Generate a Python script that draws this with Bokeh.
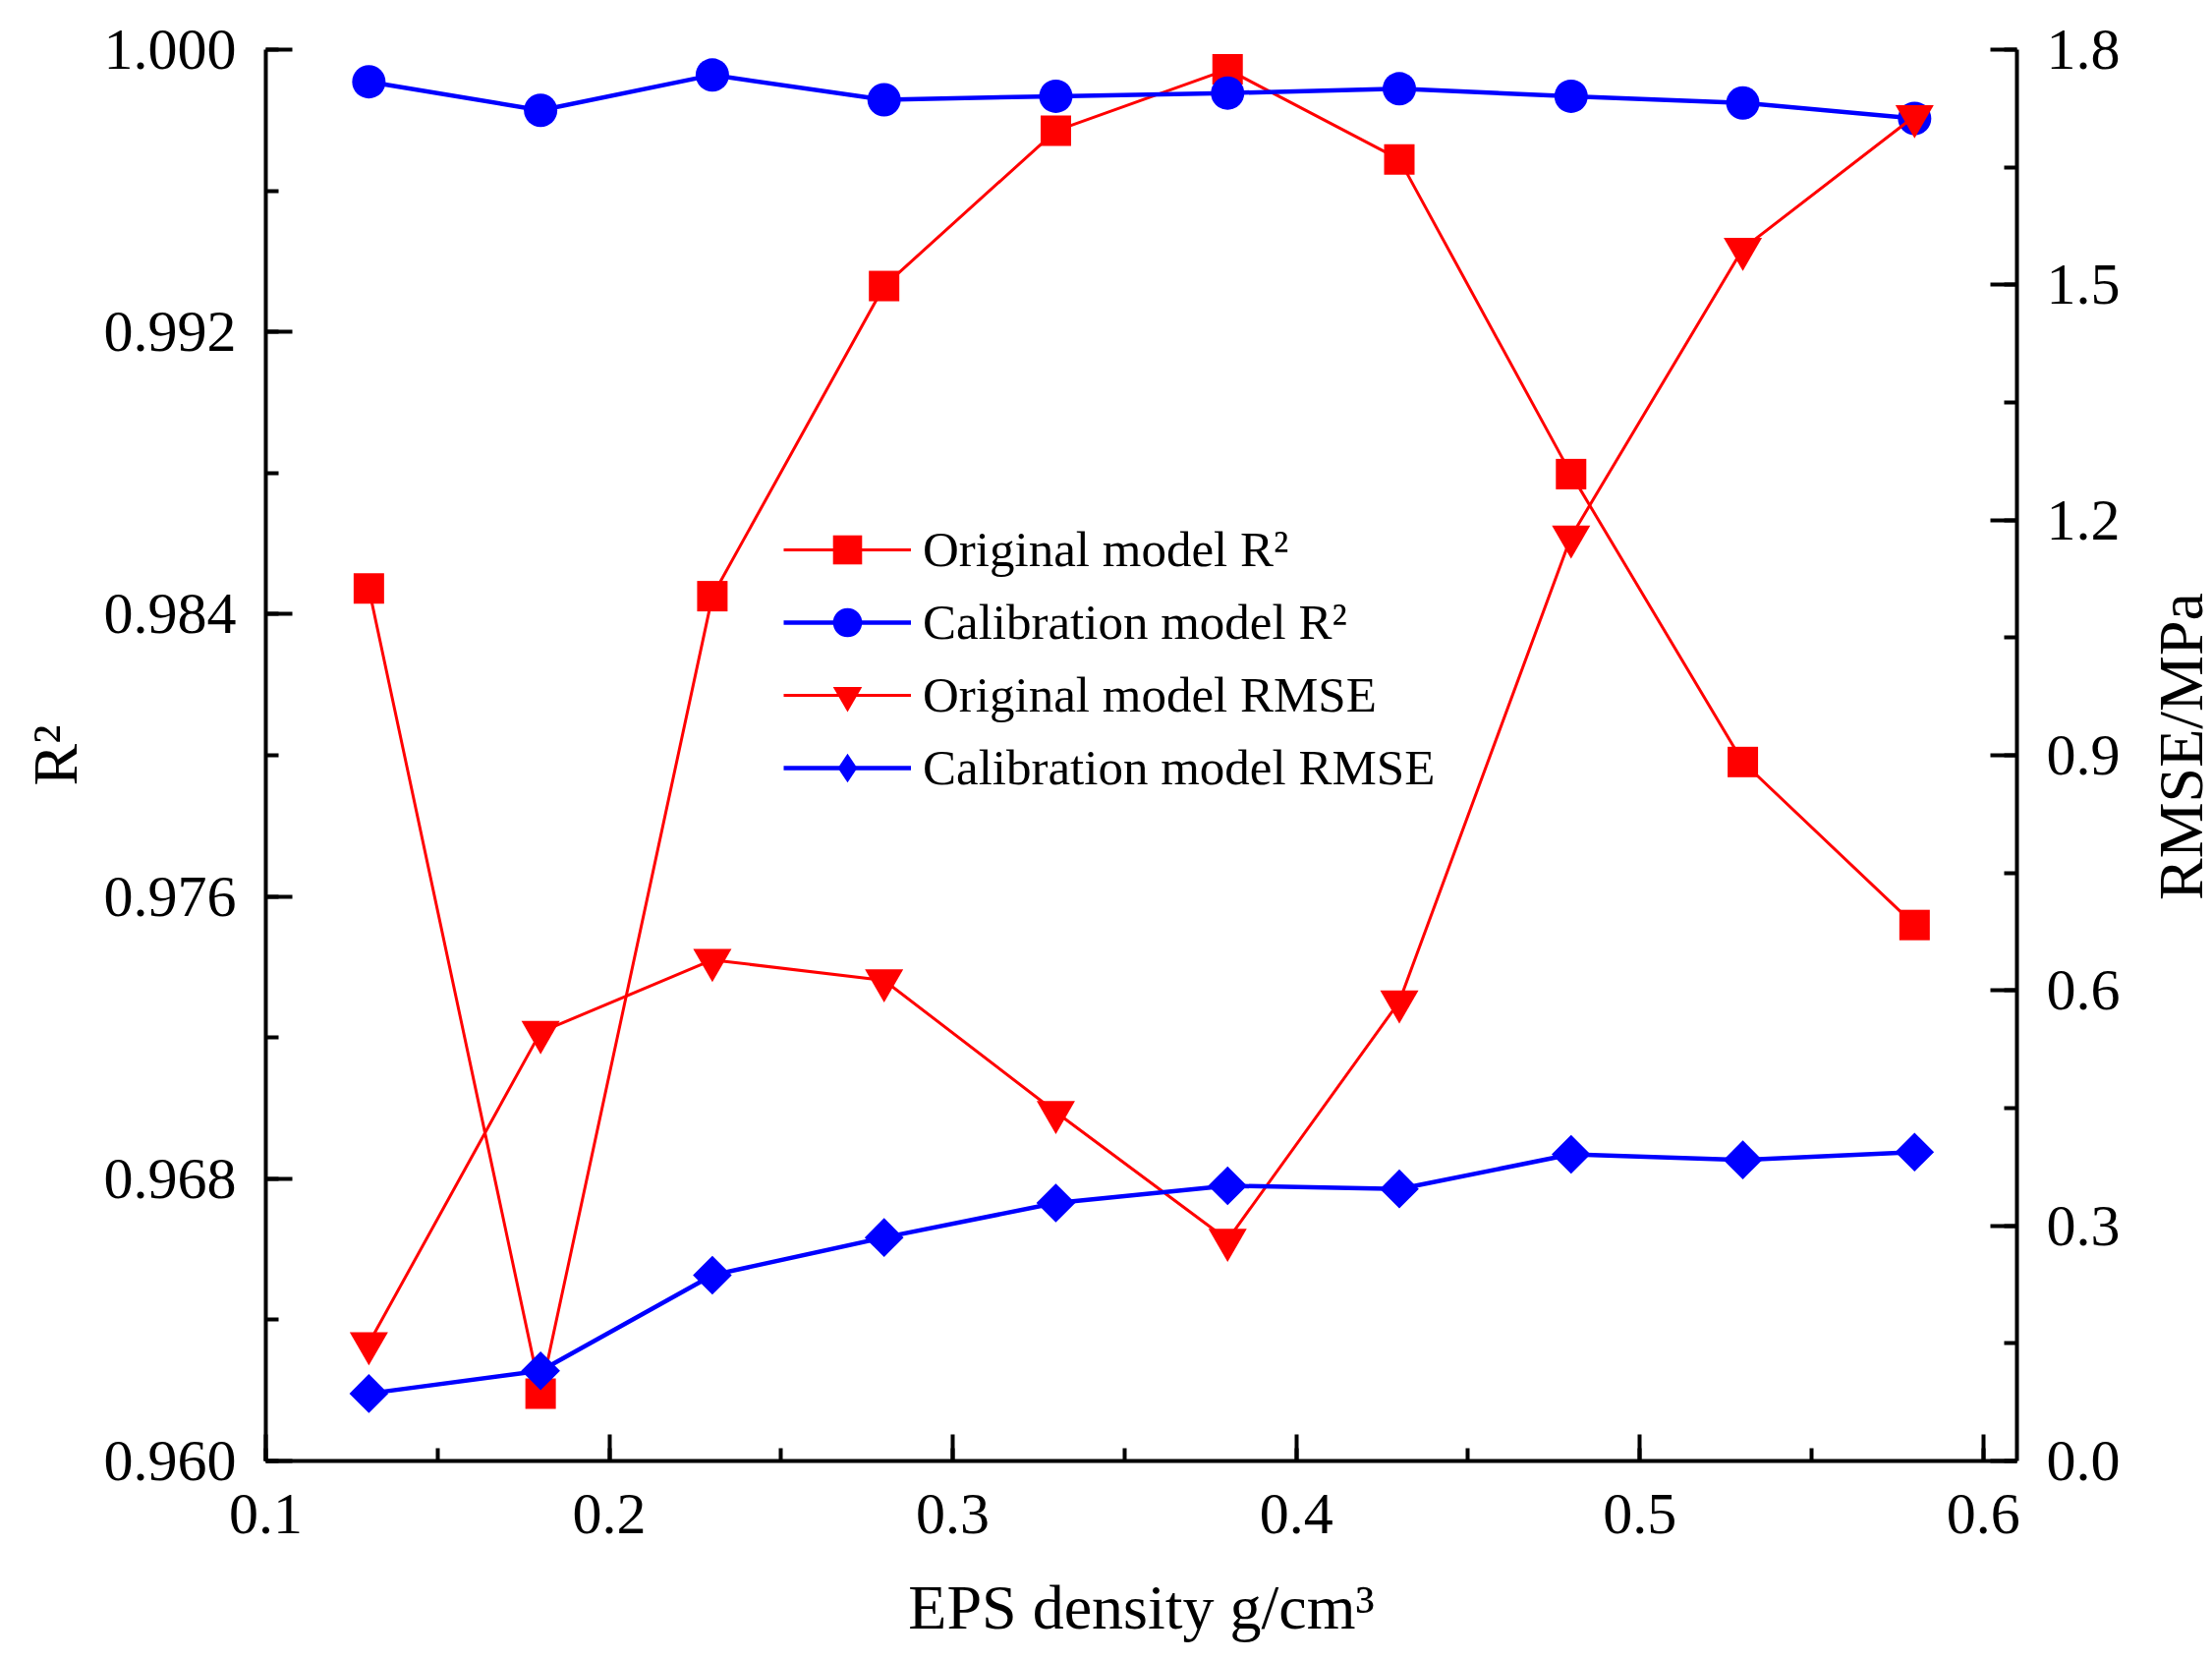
import math
from bokeh.plotting import figure
from bokeh.layouts import row
from bokeh.models import Range1d, LinearAxis, Legend, LegendItem, Label, SingleIntervalTicker, PrintfTickFormatter
from bokeh.embed import file_html
from bokeh.resources import INLINE

# ---- data ----
eps_density = [0.13, 0.18, 0.23, 0.28, 0.33, 0.38, 0.43, 0.48, 0.53, 0.58]
original_r2 = [0.98473, 0.96191, 0.98451, 0.99330, 0.99770, 0.99944, 0.99689, 0.98797, 0.97981, 0.97519]
calibration_r2 = [0.99909, 0.99828, 0.99928, 0.99858, 0.99868, 0.99877, 0.99889, 0.99868, 0.99849, 0.99805]
original_rmse = [0.150, 0.547, 0.639, 0.613, 0.445, 0.282, 0.586, 1.179, 1.546, 1.715]
calibration_rmse = [0.086, 0.115, 0.237, 0.285, 0.329, 0.351, 0.347, 0.391, 0.384, 0.394]

series_labels = ["Original model R²", "Calibration model R²",
                 "Original model RMSE", "Calibration model RMSE"]
x_label = "EPS density g/cm³"
y_label = "R²"
y2_label = "RMSE/MPa"

RED = "#FF0000"
BLUE = "#0000FF"
FONT = "Liberation Serif"

BORDER_L, BORDER_R, BORDER_T, BORDER_B = 270, 115, 50, 195
FRAME_W, FRAME_H = 1782, 1436
TOTAL_H = BORDER_T + FRAME_H + BORDER_B

p = figure(frame_width=FRAME_W, frame_height=FRAME_H,
           min_border_left=BORDER_L, min_border_right=BORDER_R,
           min_border_top=BORDER_T, min_border_bottom=BORDER_B,
           x_range=Range1d(0.1, 0.6098), y_range=Range1d(0.960, 1.000),
           output_backend="svg", toolbar_location=None,
           x_axis_location=None, y_axis_location=None)
p.extra_y_ranges = {"rmse": Range1d(0.0, 1.8)}
p.outline_line_color = None
p.xgrid.visible = False
p.ygrid.visible = False
p.background_fill_color = "white"
p.border_fill_color = "white"


def style_axis(ax, interval, fmt_digits):
    ax.ticker = SingleIntervalTicker(interval=interval, num_minor_ticks=2)
    ax.axis_line_width = 4
    ax.axis_line_color = "black"
    ax.major_tick_line_width = 4
    ax.minor_tick_line_width = 4
    ax.major_tick_in = 27
    ax.major_tick_out = 0
    ax.minor_tick_in = 13
    ax.minor_tick_out = 0
    ax.major_label_text_font = FONT
    ax.major_label_text_font_size = "60px"
    ax.major_label_text_color = "black"
    ax.axis_label_text_font = FONT
    ax.axis_label_text_font_size = "64px"
    ax.axis_label_text_font_style = "normal"
    ax.axis_label_text_color = "black"
    ax.formatter = PrintfTickFormatter(format="%." + str(fmt_digits) + "f")


xaxis = LinearAxis(axis_label=x_label)
style_axis(xaxis, 0.1, 1)
xaxis.major_label_standoff = 34
xaxis.axis_label_standoff = 37
p.add_layout(xaxis, "below")

yaxis = LinearAxis(axis_label=y_label)
style_axis(yaxis, 0.008, 3)
yaxis.major_label_standoff = 30
yaxis.axis_label_standoff = 11
p.add_layout(yaxis, "left")

y2axis = LinearAxis(y_range_name="rmse")
style_axis(y2axis, 0.3, 1)
y2axis.major_label_standoff = 30
p.add_layout(y2axis, "right")

# ---- series ----
l1 = p.line(eps_density, original_r2, line_color=RED, line_width=3)
s1 = p.scatter(eps_density, original_r2, marker="square", size=31,
               fill_color=RED, line_color=RED, line_width=0)
l2 = p.line(eps_density, calibration_r2, line_color=BLUE, line_width=4.5)
s2 = p.scatter(eps_density, calibration_r2, marker="circle", size=34,
               fill_color=BLUE, line_color=BLUE, line_width=0)
l3 = p.line(eps_density, original_rmse, line_color=RED, line_width=3, y_range_name="rmse")
s3 = p.scatter(eps_density, original_rmse, marker="inverted_triangle", size=39,
               fill_color=RED, line_color=RED, line_width=0, y_range_name="rmse")
l4 = p.line(eps_density, calibration_rmse, line_color=BLUE, line_width=4.5, y_range_name="rmse")
# diamond-shaped marker (used for the legend key), covered by the rotated squares below
s4k = p.scatter(eps_density, calibration_rmse, marker="diamond", size=38,
                fill_color=BLUE, line_color=BLUE, line_width=0, y_range_name="rmse")
s4 = p.scatter(eps_density, calibration_rmse, marker="square", angle=math.pi / 4, size=28,
               fill_color=BLUE, line_color=BLUE, line_width=0, y_range_name="rmse")

legend = Legend(items=[
    LegendItem(label=series_labels[0], renderers=[l1, s1]),
    LegendItem(label=series_labels[1], renderers=[l2, s2]),
    LegendItem(label=series_labels[2], renderers=[l3, s3]),
    LegendItem(label=series_labels[3], renderers=[l4, s4k]),
], location=(527, 668))
legend.border_line_color = None
legend.background_fill_alpha = 0
legend.padding = 0
legend.margin = 0
legend.spacing = 0
legend.glyph_width = 130
legend.glyph_height = 74
legend.label_height = 72
legend.label_standoff = 12
legend.label_text_font = FONT
legend.label_text_font_size = "51px"
legend.label_text_color = "black"
legend.label_text_baseline = "middle"
p.add_layout(legend, "center")

# ---- right-hand axis title (reads bottom-to-top), in a narrow companion figure ----
SIDE_W = 90
side = figure(width=SIDE_W, height=TOTAL_H, min_border=0,
              x_range=Range1d(0, SIDE_W), y_range=Range1d(0, TOTAL_H),
              output_backend="svg", toolbar_location=None,
              x_axis_location=None, y_axis_location=None)
side.outline_line_color = None
side.xgrid.visible = False
side.ygrid.visible = False
side.background_fill_color = "white"
side.border_fill_color = "white"
side.add_layout(Label(x=52, y=TOTAL_H - (BORDER_T + FRAME_H / 2) - 62, text=y2_label,
                      angle=math.pi / 2, text_font=FONT, text_font_size="64px",
                      text_color="black", text_align="center", text_baseline="middle"))

layout = row(p, side, spacing=0)
open("out.html", "w").write(file_html(layout, INLINE))
